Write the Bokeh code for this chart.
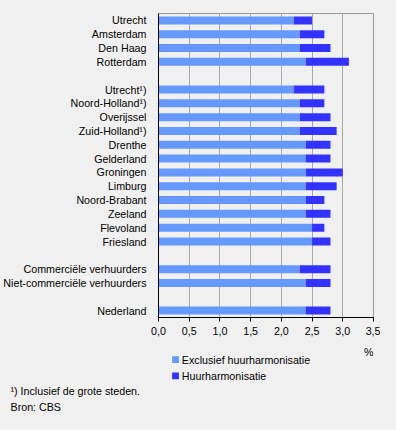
from bokeh.plotting import figure
from bokeh.layouts import column
from bokeh.models import (FactorRange, FixedTicker, CustomJSTickFormatter,
                          ColumnDataSource, Range1d, Title)
from bokeh.core.properties import value
from bokeh.embed import file_html
from bokeh.resources import INLINE

# ---- data (top to bottom); blank entries are spacer rows ----
categories = ["Utrecht", "Amsterdam", "Den Haag", "Rotterdam", " ",
              "Utrecht¹)", "Noord-Holland¹)", "Overijssel", "Zuid-Holland¹)",
              "Drenthe", "Gelderland", "Groningen", "Limburg", "Noord-Brabant",
              "Zeeland", "Flevoland", "Friesland", "  ",
              "Commerciële verhuurders", "Niet-commerciële verhuurders", "   ",
              "Nederland"]
exclusief = [2.2, 2.3, 2.3, 2.4, None,
             2.2, 2.3, 2.3, 2.3, 2.4, 2.4, 2.4, 2.4, 2.4, 2.4, 2.5, 2.5, None,
             2.3, 2.4, None,
             2.4]
harmonisatie = [0.3, 0.4, 0.5, 0.7, None,
                0.5, 0.4, 0.5, 0.6, 0.4, 0.4, 0.6, 0.5, 0.3, 0.4, 0.2, 0.3, None,
                0.5, 0.4, None,
                0.4]
series_names = ["Exclusief huurharmonisatie", "Huurharmonisatie"]
x_ticks = [0.0, 0.5, 1.0, 1.5, 2.0, 2.5, 3.0, 3.5]
unit_label = "%"
footnote = "¹) Inclusief de grote steden."
source_note = "Bron: CBS"

FONT = "Liberation Sans"
FS = "10.7px"
BG = "#F0F0F0"
C_LIGHT = "#6699FF"
C_DARK = "#3333FF"

rows = [(c, e, h) for c, e, h in zip(categories, exclusief, harmonisatie) if e is not None]
src = ColumnDataSource(dict(
    cat=[r[0] for r in rows],
    e0=[0.0 for r in rows],
    e1=[r[1] for r in rows],
    h1=[r[1] + r[2] for r in rows],
))

H1 = 338
p = figure(width=380, height=H1, output_backend="svg", toolbar_location=None,
           y_range=FactorRange(factors=list(reversed(categories)), range_padding=0),
           x_range=(0, 3.5),
           min_border_left=152, min_border_right=7, min_border_top=13,
           min_border_bottom=H1 - 317)
p.background_fill_color = BG
p.border_fill_color = BG
p.outline_line_color = "#999999"

p.hbar(y="cat", left="e0", right="e1", height=0.58, source=src,
       fill_color=C_LIGHT, line_color=None)
p.hbar(y="cat", left="e1", right="h1", height=0.58, source=src,
       fill_color=C_DARK, line_color=None)

# axes
p.xaxis.ticker = FixedTicker(ticks=x_ticks)
p.xaxis.formatter = CustomJSTickFormatter(code="return tick.toFixed(1).replace('.', ',');")
p.xaxis.axis_line_color = "black"
p.xaxis.major_tick_line_color = "black"
p.xaxis.major_tick_in = 0
p.xaxis.major_tick_out = 4
p.xaxis.minor_tick_line_color = None
p.xaxis.major_label_text_font = FONT
p.xaxis.major_label_text_font_size = FS
p.xaxis.major_label_text_color = "black"
p.xaxis.major_label_standoff = 5

p.yaxis.axis_line_color = "black"
p.yaxis.major_tick_line_color = None
p.yaxis.minor_tick_line_color = None
p.yaxis.major_label_text_font = FONT
p.yaxis.major_label_text_font_size = FS
p.yaxis.major_label_text_color = "black"
p.yaxis.major_label_standoff = 6

p.xgrid.grid_line_color = "#A8A8A8"
p.ygrid.grid_line_color = None

# ---- lower panel: unit + legend in its frame, notes as titles below ----
H2 = 76
F2 = 46  # frame height of lower panel
p2 = figure(width=380, height=H2, output_backend="svg", toolbar_location=None,
            x_range=Range1d(152, 373), y_range=Range1d(F2, 0),
            min_border_left=152, min_border_right=7, min_border_top=0,
            min_border_bottom=H2 - F2)
p2.axis.visible = False
p2.grid.visible = False
p2.outline_line_color = None
p2.background_fill_color = BG
p2.border_fill_color = BG

leg = ColumnDataSource(dict(x=[169.5, 169.5], y=[22, 39],
                            tx=[176, 176], t=series_names,
                            c=[C_LIGHT, C_DARK]))
p2.rect(x="x", y="y", width=7, height=7, fill_color="c", line_color=None, source=leg)
p2.text(x="tx", y="y", text="t", text_align="left", text_baseline="middle",
        text_font=value(FONT), text_font_size=FS, text_color="black", source=leg)

unit = ColumnDataSource(dict(x=[373], y=[14], t=[unit_label]))
p2.text(x="x", y="y", text="t", text_align="right", text_baseline="middle",
        text_font=value(FONT), text_font_size=FS, text_color="black", source=unit)

for txt, so in [(footnote, 0), (source_note, 4)]:
    p2.add_layout(Title(text=txt, align="left", offset=-148, standoff=so,
                        text_font=FONT, text_font_size=FS, text_font_style="normal",
                        text_color="black"), "below")

layout = column(p, p2, spacing=0)

html = file_html(layout, INLINE)
html = html.replace("<head>", "<head><style>body{background:#F0F0F0;}</style>", 1)
open("out.html", "w").write(html)
